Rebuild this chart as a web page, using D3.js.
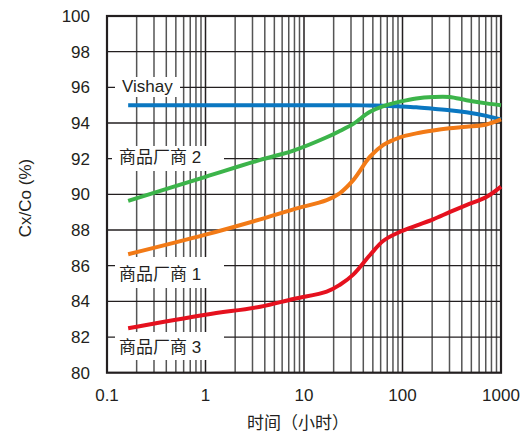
<!DOCTYPE html>
<html><head><meta charset="utf-8">
<script src="https://cdn.jsdelivr.net/npm/d3@7"></script>
<style>
html,body{margin:0;padding:0;background:#fff;}
svg text{font-family:"Liberation Sans",Arial,"Noto Sans CJK SC",sans-serif;fill:#231f20;}
</style></head>
<body>
<svg id="c" width="520" height="433"></svg>
<script>
// ---- data ----
const times = [0.164, 1, 3.6, 7.8, 17, 23, 31.6, 46.8, 64, 94.5, 138, 205, 300, 445, 710, 1000];
const vishay = [95, 95, 95, 95, 95, 95, 95, 94.98, 94.97, 94.93, 94.88, 94.8, 94.72, 94.6, 94.4, 94.2];
const vendor2 = [89.63, 90.98, 91.93, 92.45, 93.2, 93.55, 93.95, 94.63, 94.95, 95.2, 95.38, 95.46, 95.46, 95.28, 95.1, 95.0];
const vendor1 = [86.64, 87.74, 88.6, 89.16, 89.68, 90.06, 90.8, 92.11, 92.77, 93.2, 93.42, 93.58, 93.7, 93.79, 93.92, 94.2];
const vendor3 = [82.49, 83.25, 83.7, 84.13, 84.54, 84.92, 85.5, 86.6, 87.4, 87.9, 88.25, 88.6, 89.0, 89.4, 89.85, 90.43];
const xTicks = [0.1, 1, 10, 100, 1000];
const xTickLabels = ["0.1", "1", "10", "100", "1000"];
const yTicks = [80, 82, 84, 86, 88, 90, 92, 94, 96, 98, 100];
const seriesNames = ["Vishay", "商品厂商 2", "商品厂商 1", "商品厂商 3"];
const yLabel = "Cx/Co (%)";
const xLabel = "时间（小时）";

// ---- layout ----
const L = 107, T = 16, R = 501, B = 372.7;
const svg = d3.select("#c");
const x = d3.scaleLog().domain([0.1, 1000]).range([L, R]);
const y = d3.scaleLinear().domain([80, 100]).range([B, T]);
const dark = "#231f20";

// minor vertical grid
const minor = [];
for (let d = 0.1; d < 1000; d *= 10) for (let k = 2; k <= 9; k++) minor.push(+(d * k).toPrecision(3));
const g = svg.append("g");
g.selectAll("line.vg").data(minor).enter().append("line")
  .attr("x1", d => x(d)).attr("x2", d => x(d)).attr("y1", T).attr("y2", B)
  .attr("stroke", "#555").attr("stroke-width", 1.5);
g.selectAll("line.vm").data([1, 10, 100]).enter().append("line")
  .attr("x1", d => x(d)).attr("x2", d => x(d)).attr("y1", T).attr("y2", B)
  .attr("stroke", dark).attr("stroke-width", 1.5);
g.selectAll("line.hg").data(yTicks.slice(1, -1)).enter().append("line")
  .attr("x1", L).attr("x2", R).attr("y1", d => y(d)).attr("y2", d => y(d))
  .attr("stroke", dark).attr("stroke-width", 1.3);

// label boxes
const boxes = [[115, 77, 65, 20], [112, 146, 112, 25], [115, 257, 109, 31], [115, 332, 109, 28]];
svg.selectAll("rect.bx").data(boxes).enter().append("rect")
  .attr("x", d => d[0]).attr("y", d => d[1]).attr("width", d => d[2]).attr("height", d => d[3])
  .attr("fill", "#fff");

// frame
svg.append("rect").attr("x", L).attr("y", T).attr("width", R - L).attr("height", B - T)
  .attr("fill", "none").attr("stroke", dark).attr("stroke-width", 2.2);

// curves
const line = d3.line().x(d => x(d[0])).y(d => y(d[1])).curve(d3.curveCatmullRom.alpha(0.5));
const series = [
  {v: vishay, c: "#0a77c1"},
  {v: vendor2, c: "#3cb44a"},
  {v: vendor1, c: "#f27a16"},
  {v: vendor3, c: "#e5111e"}
];
series.forEach(s => {
  svg.append("path").datum(times.map((t, i) => [t, s.v[i]]))
    .attr("d", line).attr("fill", "none").attr("stroke", s.c)
    .attr("stroke-width", 4).attr("stroke-linecap", "butt");
});

// series labels
const labPos = [[122, 92], [119, 163], [119, 279.5], [119, 353]];
svg.selectAll("text.sl").data(seriesNames).enter().append("text")
  .attr("x", (d, i) => labPos[i][0]).attr("y", (d, i) => labPos[i][1])
  .attr("font-size", 17).text(d => d);

// y tick labels
svg.selectAll("text.yt").data(yTicks).enter().append("text")
  .attr("x", 90).attr("y", d => y(d) + 6).attr("text-anchor", "end")
  .attr("font-size", 17).text(d => d);
// x tick labels
svg.selectAll("text.xt").data(xTicks).enter().append("text")
  .attr("x", d => x(d)).attr("y", 401).attr("text-anchor", "middle")
  .attr("font-size", 17).text((d, i) => xTickLabels[i]);

// axis titles
svg.append("text").attr("transform", "translate(30.5,198) rotate(-90)")
  .attr("text-anchor", "middle").attr("font-size", 17).text(yLabel);
svg.append("text").attr("x", 298).attr("y", 429).attr("text-anchor", "middle")
  .attr("font-size", 17).text(xLabel);
</script>
</body></html>
